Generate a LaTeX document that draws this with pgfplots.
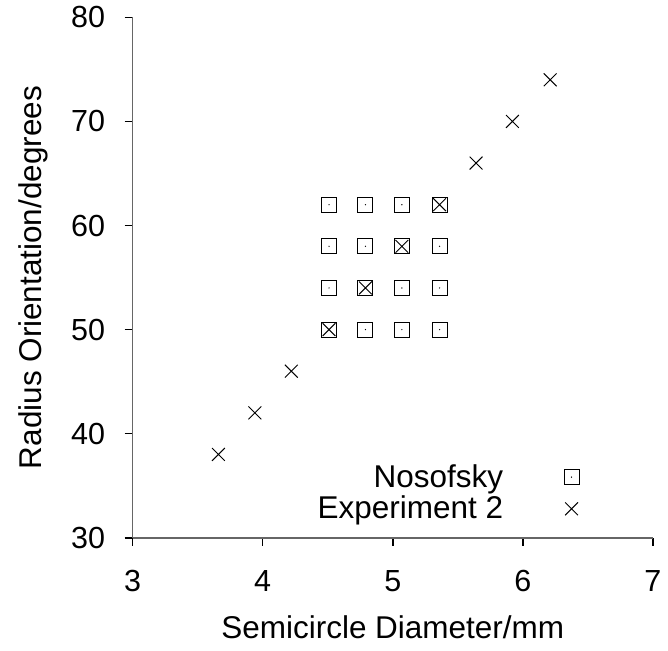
\documentclass[border={6pt 3pt 0pt 0pt}]{standalone}
\usepackage{fontspec}
\setmainfont{Liberation Sans}
\usepackage{pgfplots}
\pgfplotsset{compat=1.18}
\pgfdeclareplotmark{sqdot}{%
  \pgfpathrectangle{\pgfpoint{-\pgfplotmarksize}{-\pgfplotmarksize}}{\pgfpoint{2\pgfplotmarksize}{2\pgfplotmarksize}}%
  \pgfusepathqstroke
  \pgfpathcircle{\pgfpointorigin}{0.35pt}%
  \pgfusepathqfill
}
\begin{document}
\begin{tikzpicture}
\begin{axis}[
  scale only axis,width=264.5pt,height=264.5pt,
  xmin=3,xmax=7,ymin=30,ymax=80,
  xtick={3,4,5,6,7},ytick={30,40,50,60,70,80},
  axis x line*=bottom,axis y line*=left,
  axis line style={gray!80!black,line width=0.8pt},
  tick style={black,line width=0.8pt},
  tick align=outside,major tick length=4pt,
  tick label style={font=\fontsize{15.5}{18}\selectfont},
  xticklabel style={yshift=-9pt},
  yticklabel style={xshift=-6.5pt},
  /pgf/number format/assume math mode=true,
  label style={font=\fontsize{16}{18}\selectfont},
  xlabel={Semicircle Diameter/mm},
  ylabel={Radius Orientation/degrees},
  xlabel style={yshift=-5pt},
  ylabel style={yshift=5pt},
  legend style={draw=none,fill=none,at={(0.87,0.015)},anchor=south east,
    font=\fontsize{16}{17}\selectfont,row sep=-1pt,column sep=29pt},
  legend cell align=right,legend plot pos=right,
]
\addplot[only marks,mark=sqdot,mark size=3.8pt,black,line width=0.5pt] coordinates {
  (4.51,62) (4.79,62) (5.07,62) (5.36,62)
  (4.51,58) (4.79,58) (5.07,58) (5.36,58)
  (4.51,54) (4.79,54) (5.07,54) (5.36,54)
  (4.51,50) (4.79,50) (5.07,50) (5.36,50)
};
\addlegendentry{Nosofsky}
\addplot[only marks,mark=x,mark size=4.6pt,black,line width=0.5pt] coordinates {
  (3.66,38) (3.94,42) (4.22,46) (4.51,50) (4.79,54)
  (5.07,58) (5.36,62) (5.64,66) (5.92,70) (6.21,74)
};
\addlegendentry{Experiment 2}
\end{axis}
\end{tikzpicture}
\end{document}
